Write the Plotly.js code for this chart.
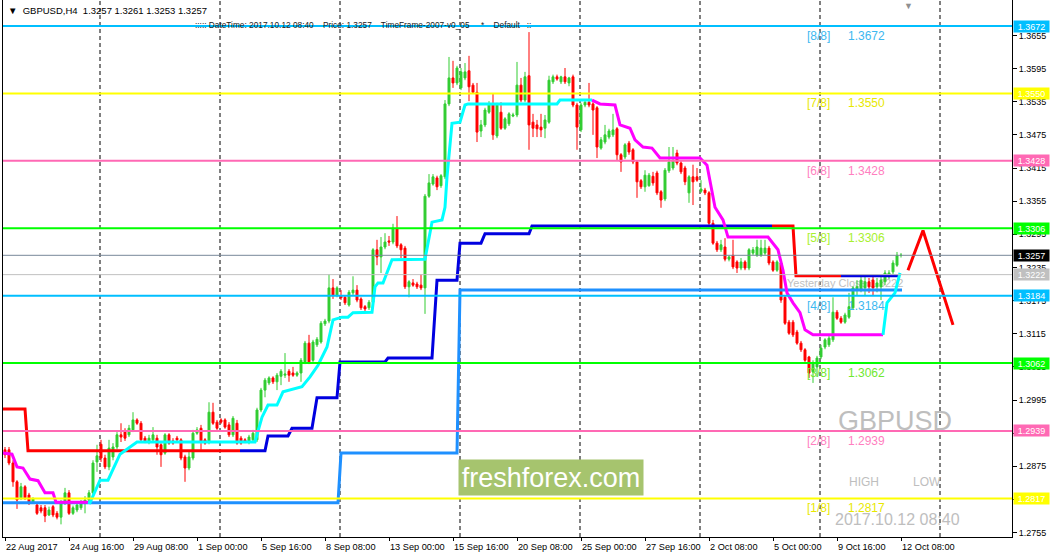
<!DOCTYPE html>
<html><head><meta charset="utf-8">
<script src="https://cdn.plot.ly/plotly-3.0.1.min.js"></script>
<style>html,body{margin:0;padding:0;background:#fff;}#chart{width:1050px;height:560px;}</style>
</head><body><div id="chart"></div>
<script>
// ---------- DATA ----------
const open = [1.2905,1.2905,1.2881,1.2847,1.2818,1.2838,1.2823,1.2810,1.2805,1.2800,
1.2800,1.2787,1.2802,1.2790,1.2783,1.2809,1.2827,1.2790,1.2796,1.2800,
1.2809,1.2814,1.2827,1.2883,1.2915,1.2890,1.2874,1.2892,1.2910,1.2932,
1.2937,1.2932,1.2941,1.2959,1.2953,1.2926,1.2919,1.2923,1.2926,1.2914,
1.2899,1.2932,1.2921,1.2926,1.2923,1.2892,1.2872,1.2890,1.2935,1.2944,
1.2923,1.2919,1.2973,1.2955,1.2959,1.2959,1.2950,1.2932,1.2953,1.2926,
1.2923,1.2919,1.2923,1.2923,1.2977,1.3013,1.3026,1.3035,1.3028,1.3038,
1.3040,1.3047,1.3044,1.3040,1.3044,1.3064,1.3098,1.3067,1.3095,1.3100,
1.3133,1.3138,1.3198,1.3185,1.3183,1.3181,1.3167,1.3189,1.3194,1.3178,
1.3164,1.3162,1.3172,1.3267,1.3254,1.3272,1.3283,1.3281,1.3305,1.3276,
1.3270,1.3200,1.3207,1.3205,1.3203,1.3198,1.3364,1.3386,1.3397,1.3383,
1.3399,1.3531,1.3578,1.3569,1.3560,1.3578,1.3591,1.3565,1.3552,1.3482,
1.3493,1.3516,1.3529,1.3473,1.3516,1.3487,1.3495,1.3509,1.3511,1.3565,
1.3538,1.3582,1.3498,1.3493,1.3489,1.3487,1.3498,1.3571,1.3580,1.3571,
1.3580,1.3569,1.3580,1.3529,1.3484,1.3529,1.3534,1.3531,1.3524,1.3451,
1.3462,1.3471,1.3475,1.3486,1.3439,1.3435,1.3460,1.3448,1.3426,1.3392,
1.3381,1.3383,1.3400,1.3406,1.3372,1.3359,1.3410,1.3415,1.3442,1.3424,
1.3415,1.3370,1.3399,1.3399,1.3373,1.3375,1.3370,1.3315,1.3279,1.3267,
1.3272,1.3250,1.3257,1.3245,1.3234,1.3245,1.3234,1.3261,1.3257,1.3257,
1.3261,1.3270,1.3245,1.3230,1.3243,1.3181,1.3136,1.3136,1.3118,1.3098,
1.3086,1.3073,1.3046,1.3055,1.3073,1.3091,1.3095,1.3104,1.3154,1.3143,
1.3136,1.3145,1.3162,1.3194,1.3194,1.3198,1.3209,1.3212,1.3200,1.3200,
1.3209,1.3218,1.3227,1.3239,1.3257];
const high = [1.2910,1.2910,1.2886,1.2850,1.2845,1.2841,1.2827,1.2819,1.2809,1.2805,
1.2805,1.2802,1.2805,1.2794,1.2814,1.2836,1.2832,1.2804,1.2809,1.2814,
1.2821,1.2832,1.2886,1.2914,1.2923,1.2896,1.2923,1.2917,1.2937,1.2953,
1.2944,1.2950,1.2973,1.2962,1.2957,1.2930,1.2932,1.2946,1.2932,1.2917,
1.2935,1.2935,1.2926,1.2930,1.2926,1.2896,1.2901,1.2941,1.2946,1.2950,
1.2926,1.2991,1.2990,1.2959,1.2962,1.2962,1.2955,1.2966,1.2959,1.2930,
1.2926,1.2932,1.2941,1.2981,1.3017,1.3035,1.3038,1.3038,1.3044,1.3051,
1.3080,1.3051,1.3055,1.3047,1.3071,1.3102,1.3113,1.3104,1.3109,1.3138,
1.3142,1.3223,1.3214,1.3201,1.3194,1.3185,1.3194,1.3219,1.3203,1.3181,
1.3167,1.3176,1.3270,1.3285,1.3290,1.3297,1.3292,1.3314,1.3328,1.3279,
1.3274,1.3212,1.3214,1.3209,1.3223,1.3368,1.3404,1.3404,1.3401,1.3404,
1.3538,1.3616,1.3609,1.3600,1.3596,1.3605,1.3618,1.3569,1.3569,1.3502,
1.3524,1.3536,1.3549,1.3533,1.3534,1.3507,1.3516,1.3515,1.3607,1.3578,
1.3589,1.3661,1.3513,1.3502,1.3513,1.3511,1.3582,1.3584,1.3584,1.3582,
1.3596,1.3580,1.3584,1.3533,1.3533,1.3538,1.3569,1.3534,1.3527,1.3471,
1.3493,1.3486,1.3513,1.3489,1.3442,1.3460,1.3464,1.3451,1.3429,1.3395,
1.3411,1.3406,1.3408,1.3410,1.3375,1.3415,1.3453,1.3453,1.3448,1.3428,
1.3419,1.3402,1.3421,1.3415,1.3393,1.3379,1.3373,1.3321,1.3283,1.3285,
1.3288,1.3257,1.3285,1.3248,1.3252,1.3248,1.3270,1.3272,1.3285,1.3285,
1.3285,1.3274,1.3248,1.3248,1.3247,1.3185,1.3140,1.3140,1.3122,1.3102,
1.3089,1.3075,1.3067,1.3075,1.3095,1.3107,1.3111,1.3181,1.3158,1.3147,
1.3153,1.3189,1.3201,1.3212,1.3218,1.3221,1.3216,1.3219,1.3216,1.3219,
1.3230,1.3230,1.3248,1.3263,1.3261];
const low = [1.2890,1.2877,1.2838,1.2798,1.2814,1.2814,1.2805,1.2807,1.2787,1.2790,
1.2774,1.2785,1.2783,1.2779,1.2770,1.2805,1.2787,1.2787,1.2792,1.2796,
1.2790,1.2810,1.2823,1.2865,1.2883,1.2870,1.2868,1.2886,1.2906,1.2919,
1.2921,1.2928,1.2937,1.2950,1.2919,1.2917,1.2915,1.2919,1.2896,1.2874,
1.2896,1.2914,1.2914,1.2919,1.2886,1.2847,1.2868,1.2886,1.2932,1.2905,
1.2914,1.2915,1.2950,1.2941,1.2952,1.2943,1.2928,1.2928,1.2914,1.2914,
1.2917,1.2915,1.2919,1.2919,1.2973,1.3000,1.3022,1.3024,1.3013,1.3022,
1.3035,1.3028,1.3037,1.3037,1.3028,1.3060,1.3060,1.3064,1.3091,1.3097,
1.3129,1.3134,1.3178,1.3181,1.3176,1.3167,1.3164,1.3185,1.3172,1.3158,
1.3156,1.3158,1.3169,1.3239,1.3225,1.3268,1.3274,1.3277,1.3270,1.3252,
1.3196,1.3181,1.3200,1.3196,1.3194,1.3151,1.3361,1.3383,1.3375,1.3379,
1.3395,1.3527,1.3560,1.3565,1.3556,1.3574,1.3536,1.3549,1.3462,1.3471,
1.3489,1.3513,1.3466,1.3469,1.3484,1.3484,1.3491,1.3507,1.3507,1.3534,
1.3534,1.3448,1.3471,1.3471,1.3471,1.3469,1.3495,1.3567,1.3573,1.3567,
1.3567,1.3563,1.3525,1.3448,1.3480,1.3525,1.3525,1.3475,1.3433,1.3448,
1.3458,1.3467,1.3471,1.3429,1.3408,1.3431,1.3439,1.3422,1.3361,1.3377,
1.3372,1.3381,1.3383,1.3366,1.3343,1.3355,1.3406,1.3411,1.3420,1.3404,
1.3384,1.3352,1.3348,1.3390,1.3370,1.3366,1.3312,1.3276,1.3263,1.3263,
1.3246,1.3246,1.3232,1.3225,1.3230,1.3230,1.3230,1.3257,1.3254,1.3254,
1.3257,1.3239,1.3227,1.3227,1.3171,1.3131,1.3113,1.3109,1.3095,1.3082,
1.3064,1.3035,1.3026,1.3037,1.3069,1.3087,1.3091,1.3100,1.3140,1.3133,
1.3133,1.3142,1.3158,1.3185,1.3190,1.3185,1.3189,1.3185,1.3190,1.3176,
1.3203,1.3214,1.3223,1.3236,1.3253];
const close = [1.2896,1.2881,1.2847,1.2814,1.2838,1.2818,1.2810,1.2816,1.2790,1.2794,
1.2785,1.2796,1.2787,1.2783,1.2809,1.2827,1.2790,1.2800,1.2805,1.2809,
1.2814,1.2827,1.2881,1.2894,1.2890,1.2874,1.2908,1.2910,1.2932,1.2928,
1.2926,1.2944,1.2959,1.2953,1.2923,1.2921,1.2926,1.2932,1.2910,1.2896,
1.2932,1.2917,1.2917,1.2923,1.2890,1.2872,1.2892,1.2935,1.2941,1.2919,
1.2917,1.2973,1.2953,1.2944,1.2955,1.2946,1.2932,1.2962,1.2917,1.2917,
1.2921,1.2928,1.2935,1.2977,1.3013,1.3031,1.3035,1.3028,1.3040,1.3047,
1.3042,1.3040,1.3040,1.3044,1.3067,1.3098,1.3064,1.3100,1.3105,1.3134,
1.3138,1.3198,1.3185,1.3198,1.3180,1.3171,1.3190,1.3194,1.3176,1.3162,
1.3160,1.3172,1.3267,1.3254,1.3272,1.3281,1.3281,1.3306,1.3274,1.3267,
1.3200,1.3209,1.3203,1.3200,1.3198,1.3364,1.3388,1.3399,1.3381,1.3401,
1.3531,1.3578,1.3569,1.3596,1.3589,1.3589,1.3562,1.3552,1.3480,1.3493,
1.3520,1.3529,1.3475,1.3529,1.3487,1.3504,1.3513,1.3511,1.3565,1.3538,
1.3580,1.3493,1.3487,1.3486,1.3484,1.3502,1.3574,1.3580,1.3576,1.3580,
1.3571,1.3578,1.3529,1.3489,1.3529,1.3534,1.3529,1.3520,1.3453,1.3466,
1.3475,1.3482,1.3484,1.3439,1.3426,1.3457,1.3444,1.3426,1.3390,1.3381,
1.3402,1.3402,1.3388,1.3370,1.3357,1.3411,1.3426,1.3428,1.3424,1.3408,
1.3390,1.3399,1.3390,1.3393,1.3377,1.3370,1.3315,1.3279,1.3267,1.3276,
1.3250,1.3254,1.3236,1.3234,1.3245,1.3234,1.3267,1.3267,1.3272,1.3270,
1.3270,1.3243,1.3230,1.3245,1.3176,1.3134,1.3116,1.3113,1.3098,1.3086,
1.3067,1.3044,1.3062,1.3071,1.3089,1.3104,1.3107,1.3154,1.3143,1.3136,
1.3149,1.3164,1.3198,1.3200,1.3212,1.3209,1.3200,1.3198,1.3207,1.3212,
1.3225,1.3225,1.3243,1.3257,1.3257];

const dateTickIndex = [0,16,32,48,64,80,96,112,128,144,160,176,192,208,224];
const dateTickLabels = ["22 Aug 2017","24 Aug 16:00","29 Aug 08:00","1 Sep 00:00","5 Sep 16:00","8 Sep 08:00","13 Sep 00:00","15 Sep 16:00","20 Sep 08:00","25 Sep 00:00","27 Sep 16:00","2 Oct 08:00","5 Oct 00:00","9 Oct 16:00","12 Oct 08:00"];
const weekSeparators = [23.75,53.75,83.75,113.75,143.75,173.75,203.75,233.75];
const priceTicks = [1.2755,1.2815,1.2875,1.2935,1.2995,1.3055,1.3115,1.3175,1.3235,1.3295,1.3355,1.3415,1.3475,1.3535,1.3595,1.3655];

const murreyLevels = [1.3672,1.3550,1.3428,1.3306,1.3184,1.3062,1.2939,1.2817];
const murreyNames = ["[8/8]","[7/8]","[6/8]","[5/8]","[4/8]","[3/8]","[2/8]","[1/8]"];
const currentPrice = 1.3257;
const yesterdayClose = 1.3222;

// channel step line (red / blue parts)
const upperRedX = [-0.5,5,5.75,58.75,null,191.75,197,197.75,209];
const upperRedY = [1.2979,1.2979,1.2903,1.2903,null,1.3310,1.3310,1.3220,1.3220];
const upperBlueX = [58.75,65,65.75,70.75,71.75,76.75,78,83,83.75,95,95.75,106.75,108,113,113.75,119,120,131,131.75,191.75,null,209,223.5];
const upperBlueY = [1.2903,1.2903,1.2930,1.2930,1.2944,1.2944,1.2999,1.2999,1.3064,1.3064,1.3071,1.3071,1.3212,1.3212,1.3279,1.3279,1.3296,1.3296,1.3310,1.3310,null,1.3220,1.3220];
const lowerX = [-0.5,83.25,84,113,113.75,224.25];
const lowerY = [1.2809,1.2809,1.2899,1.2899,1.3194,1.3194];

// trailing line (magenta = down, cyan = up)
const magentaX = [-0.5,1.75,3,4.5,6.25,8.25,10,12,12.75,20.75,null,
146.75,148.75,152.5,153.75,156.25,157.5,159.5,161.75,163.75,173.75,175.5,176.25,177.5,179.5,180.75,190.75,193.25,194.5,195.5,197,198.75,200,202,219.5];
const magentaY = [1.2899,1.2897,1.2874,1.2872,1.2852,1.2849,1.2827,1.2827,1.2810,1.2810,null,
1.3538,1.3531,1.3529,1.3493,1.3487,1.3466,1.3453,1.3451,1.3433,1.3433,1.3420,1.3393,1.3344,1.3321,1.3290,1.3290,1.3267,1.3230,1.3189,1.3171,1.3153,1.3122,1.3113,1.3113];
const cyanX = [20.75,21.25,23.75,25.75,28.75,33,62.5,64.25,65.75,68,69.5,72,74.25,76.25,78.25,80.5,82,84.25,85.75,87,91.75,92.5,93.25,94.5,95.5,96.75,105,105.75,106.75,109.25,110,110.5,111.75,113.75,115,115.75,138,138.75,146.75,null,
219.5,220.5,222.5,223.75];
const cyanY = [1.2810,1.2809,1.2850,1.2850,1.2897,1.2919,1.2919,1.2964,1.2986,1.2986,1.3010,1.3015,1.3019,1.3037,1.3058,1.3091,1.3140,1.3145,1.3145,1.3153,1.3154,1.3200,1.3207,1.3207,1.3225,1.3249,1.3250,1.3279,1.3317,1.3321,1.3344,1.3399,1.3496,1.3498,1.3529,1.3531,1.3531,1.3538,1.3538,null,
1.3113,1.3171,1.3189,1.3225];

// projected zigzag
const zigzagX = [225.75,229.5,237];
const zigzagY = [1.3230,1.3302,1.3131];

// ---------- STYLE ----------
const FONT = "Liberation Sans, Arial, sans-serif";
const levelLineColor = ["#00BFFF","#FFFF00","#FF69B4","#00FF00","#00BFFF","#00FF00","#FF69B4","#FFFF00"];
const levelTextColor = ["#3db8f0","#e8e800","#ff7fbf","#a8f030","#3db8f0","#70e830","#ff7fbf","#e8e800"];

const barIndex = open.map((_, i) => i);

const traces = [
  {type:'candlestick', x:barIndex, open, high, low, close,
   increasing:{line:{color:'#32CD32', width:1}, fillcolor:'#32CD32'},
   decreasing:{line:{color:'#FF0000', width:1}, fillcolor:'#FF0000'},
   whiskerwidth:0, hoverinfo:'skip', showlegend:false},
  {type:'scatter', mode:'lines', x:lowerX, y:lowerY, line:{color:'#1E90FF', width:3}, hoverinfo:'skip', showlegend:false},
  {type:'scatter', mode:'lines', x:upperBlueX, y:upperBlueY, line:{color:'#0000E0', width:3}, hoverinfo:'skip', showlegend:false},
  {type:'scatter', mode:'lines', x:upperRedX, y:upperRedY, line:{color:'#FF0000', width:3}, hoverinfo:'skip', showlegend:false},
  {type:'scatter', mode:'lines', x:magentaX, y:magentaY, line:{color:'#FF00FF', width:3}, hoverinfo:'skip', showlegend:false},
  {type:'scatter', mode:'lines', x:cyanX, y:cyanY, line:{color:'#00FFFF', width:3}, hoverinfo:'skip', showlegend:false},
  {type:'scatter', mode:'lines', x:zigzagX, y:zigzagY, line:{color:'#FF0000', width:3}, hoverinfo:'skip', showlegend:false}
];

const shapes = [];
weekSeparators.forEach(s => shapes.push({type:'line', xref:'x', yref:'paper', x0:s, x1:s, y0:0, y1:1, layer:'below', line:{color:'#000', width:1, dash:'4px,3px'}}));
shapes.push({type:'line', xref:'paper', yref:'y', x0:0, x1:1, y0:yesterdayClose, y1:yesterdayClose, line:{color:'#C0C0C0', width:1}});
shapes.push({type:'line', xref:'paper', yref:'y', x0:0, x1:1, y0:currentPrice, y1:currentPrice, line:{color:'#778899', width:1}});
murreyLevels.forEach((v,k) => shapes.push({type:'line', xref:'paper', yref:'y', x0:0, x1:1, y0:v, y1:v, line:{color:levelLineColor[k], width:2}}));
shapes.push({type:'rect', xref:'paper', yref:'y', x0:0.773, x1:0.96, y0:yesterdayClose-0.0025, y1:yesterdayClose, layer:'below',
  line:{width:0}, fillcolor:'rgba(0,0,0,0)',
  label:{text:'Yesterday Close 1.3222', textposition:'top left', padding:1, font:{family:FONT, size:11, color:'#C0C0C0'}}});

const ann = [];
dateTickIndex.forEach((t,k) => ann.push({xref:'x', yref:'paper', x:t, y:0, xanchor:'left', yanchor:'top', yshift:-3, xshift:-1,
  text:dateTickLabels[k], showarrow:false, font:{family:FONT, size:9.2, color:'#000'}}));
murreyLevels.forEach((v,k) => {
  ann.push({xref:'paper', yref:'y', x:0.7945, y:v, xanchor:'left', yanchor:'top', yshift:-1, text:murreyNames[k], showarrow:false, font:{family:FONT, size:12, color:levelTextColor[k]}});
  ann.push({xref:'paper', yref:'y', x:0.8355, y:v, xanchor:'left', yanchor:'top', yshift:-1, text:v.toFixed(4), showarrow:false, font:{family:FONT, size:12, color:levelTextColor[k]}});
});
const tagValues = murreyLevels.concat([currentPrice, yesterdayClose]);
const tagColors = levelLineColor.concat(['#000000','#C0C0C0']);
tagValues.forEach((v,k) => ann.push({xref:'paper', yref:'y', x:1, y:v, xanchor:'left', yanchor:'middle', xshift:1,
  text:v.toFixed(4), showarrow:false, bgcolor:tagColors[k], width:35, height:11, borderpad:0,
  font:{family:FONT, size:9, color:'#FFFFFF'}}));
// header
ann.push({xref:'paper', yref:'paper', x:0.003, y:1, yshift:-3, xanchor:'left', yanchor:'top', showarrow:false,
  text:'▼  GBPUSD,H4  1.3257 1.3261 1.3253 1.3257', font:{family:FONT, size:9.5, color:'#000'}});
ann.push({xref:'paper', yref:'paper', x:0.188, y:1, yshift:-18, xanchor:'left', yanchor:'top', showarrow:false,
  text:'::::: DateTime: 2017.10.12 08:40    Price: 1.3257    TimeFrame-2007-v0_05     *    Default   ::', font:{family:FONT, size:8.3, color:'#202020'}});
ann.push({xref:'paper', yref:'paper', x:0.897, y:1, yshift:1, xanchor:'center', yanchor:'top', showarrow:false,
  text:'▼', font:{family:FONT, size:9, color:'#909090'}});
// watermarks
ann.push({xref:'paper', yref:'paper', x:0.884, y:0.216, xanchor:'center', yanchor:'middle', showarrow:false, text:'GBPUSD', font:{family:FONT, size:27, color:'#BEBEBE'}});
ann.push({xref:'paper', yref:'paper', x:0.8533, y:0.1024, xanchor:'center', yanchor:'middle', showarrow:false, text:'HIGH', font:{family:FONT, size:12, color:'#BEBEBE'}});
ann.push({xref:'paper', yref:'paper', x:0.9158, y:0.1024, xanchor:'center', yanchor:'middle', showarrow:false, text:'LOW', font:{family:FONT, size:12, color:'#BEBEBE'}});
ann.push({xref:'paper', yref:'paper', x:0.887, y:0.0335, xanchor:'center', yanchor:'middle', showarrow:false, text:'2017.10.12 08:40', font:{family:FONT, size:16, color:'#BEBEBE'}});
ann.push({xref:'paper', yref:'paper', x:0.5431, y:0.1108, xanchor:'center', yanchor:'middle', showarrow:false, text:'freshforex.com',
  bgcolor:'#A6C46E', width:184, height:35, borderpad:0, font:{family:FONT, size:27, color:'#FFFFFF'}});

const layout = {
  width:1050, height:560,
  margin:{l:3, r:38, t:0, b:23, pad:0},
  paper_bgcolor:'#FFFFFF', plot_bgcolor:'#FFFFFF',
  showlegend:false, hovermode:false,
  xaxis:{type:'linear', range:[-0.5,251.75], rangeslider:{visible:false}, showgrid:false, zeroline:false,
    showline:true, linecolor:'#000', linewidth:1, ticks:'outside', ticklen:3, tickcolor:'#000',
    tickmode:'array', tickvals:dateTickIndex, showticklabels:false, fixedrange:true},
  yaxis:{side:'right', range:[1.27471,1.37191], showgrid:false, zeroline:false, showline:true, mirror:true,
    linecolor:'#000', linewidth:1, ticks:'outside', ticklen:4, tickcolor:'#000',
    tickmode:'array', tickvals:priceTicks, ticktext:priceTicks.map(v=>v.toFixed(4)),
    tickfont:{family:FONT, size:9, color:'#000'}, fixedrange:true},
  shapes, annotations:ann
};

Plotly.newPlot('chart', traces, layout, {staticPlot:true, displayModeBar:false});
</script></body></html>
